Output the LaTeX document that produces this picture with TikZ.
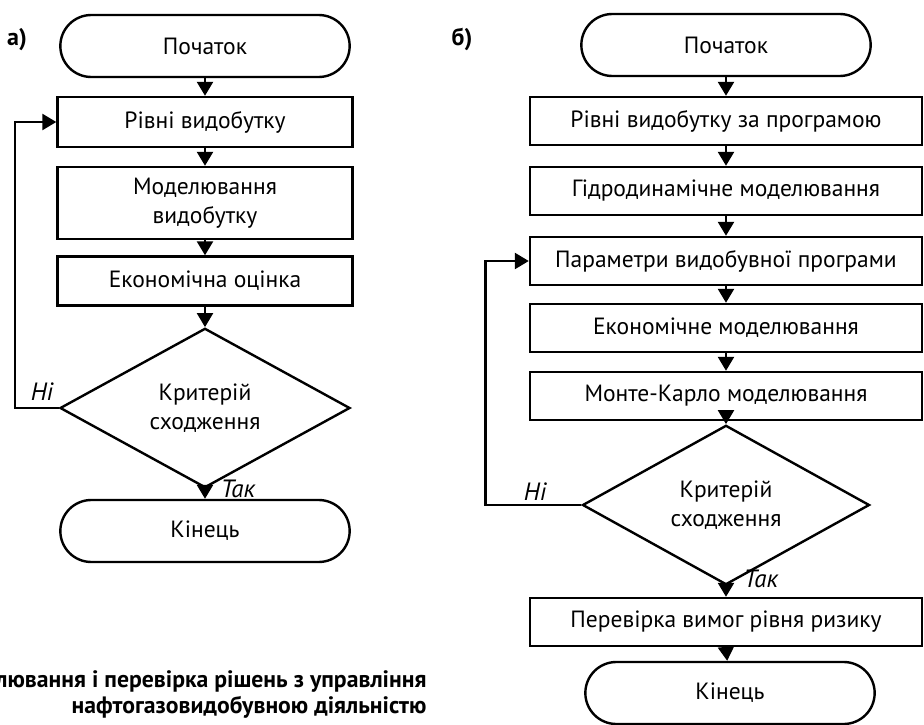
\documentclass[tikz,border=0pt]{standalone}
\usepackage{fontspec}
\setmainfont{PT Sans}
\usetikzlibrary{arrows.meta,shapes.misc,shapes.geometric}

\begin{document}
\begin{tikzpicture}[
x=1pt, y=-1pt,
every node/.style={font=\fontsize{23.5}{29}\selectfont},
term/.style={draw, rounded rectangle, line width=2.4pt, minimum width=296pt, minimum height=62pt},
block/.style={draw, rectangle, line width=2.4pt, align=center, inner sep=0pt},
decide/.style={draw, diamond, line width=2.4pt, align=center, inner sep=0pt},
flow/.style={line width=2.4pt, -{Triangle[width=16pt,length=14pt]}},
tag/.style={font=\fontsize{25}{29}\selectfont\itshape},
part/.style={font=\fontsize{24}{28}\selectfont\bfseries},
]
\useasboundingbox (0,0) rectangle (924,725);

% а)
\node[part] (la-lbl) at (17,40) {а)};
\node[term] (la-start) at (205,46) {Початок};
\node[block, minimum width=295pt, minimum height=50pt] (la-b1) at (205,122) {Рівні видобутку};
\node[block, minimum width=295pt, minimum height=72pt] (la-b2) at (205,203) {Моделювання\\видобутку};
\node[block, minimum width=295pt, minimum height=49pt] (la-b3) at (205,281) {Економічна оцінка};
\node[decide, minimum width=290pt, minimum height=140pt] (la-dec) at (205,408) {Критерій\\сходження};
\node[term] (la-end) at (205,531) {Кінець};

\foreach \a/\b in {la-start/la-b1, la-b1/la-b2, la-b2/la-b3, la-b3/la-dec, la-dec/la-end}
  \draw[flow] (\a.south) -- (\b.north);
\draw[flow] (la-dec.west) -- ++(-44,0) |- (la-b1.west);
\node[tag] (la-no) at (42,392) {Ні};
\node[tag] (la-yes) at (238,489) {Так};

% б)
\node[part] (lb-lbl) at (462,39) {б)};
\node[term] (lb-start) at (726,45) {Початок};
\foreach \n/\y/\t in {1/121/Рівні видобутку за програмою,
                      2/191/Гідродинамічне моделювання,
                      3/261/Параметри видобувної програми,
                      4/328/Економічне моделювання,
                      5/396/Монте-Карло моделювання,
                      6/622/Перевірка вимог рівня ризику}
  \node[block, minimum width=392pt, minimum height=48pt] (lb-b\n) at (726,\y) {\t};
\node[decide, minimum width=287pt, minimum height=134pt] (lb-dec) at (726,505) {Критерій\\сходження};
\node[term] (lb-end) at (730,693) {Кінець};

\foreach \a/\b in {lb-start/lb-b1, lb-b1/lb-b2, lb-b2/lb-b3, lb-b3/lb-b4, lb-b4/lb-b5,
                   lb-b5/lb-dec, lb-dec/lb-b6}
  \draw[flow] (\a.south) -- (\b.north);
\draw[flow] (lb-b6.south) -- (lb-end);
\draw[flow] (lb-dec.west) -- ++(-96,0) |- (lb-b3.west);
\node[tag] (lb-no) at (535,492) {Ні};
\node[tag] (lb-yes) at (761,579) {Так};

% caption
\node[font=\fontsize{23.7}{26.5}\selectfont\bfseries, align=right, anchor=north east] (capt) at (430,667)
  {лювання і перевірка рішень з управління\\нафтогазовидобувною діяльністю};
\end{tikzpicture}
\end{document}
